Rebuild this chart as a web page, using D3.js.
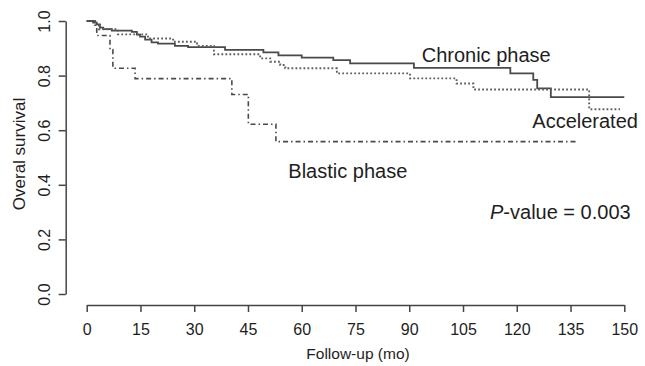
<!DOCTYPE html>
<html>
<head>
<meta charset="utf-8">
<script src="https://cdn.jsdelivr.net/npm/d3@7"></script>
<style>
  body { margin: 0; background: #fff; }
  svg { display: block; font-family: "Liberation Sans", Arial, sans-serif; }
</style>
</head>
<body>
<svg id="chart" width="645" height="366"></svg>
<script>
// Kaplan-Meier steps (time in months, survival after the step)
let chronicTime = [0, 1.8, 2.8, 3.7, 4.6, 7.0, 12.6, 14.0, 14.9, 16.3, 18.1, 19.9, 24.6, 28.3, 38.6, 49.3, 53.5, 60.0, 68.8, 73.5, 91.3, 118.2, 124.6, 125.7, 129.5, 150];
let chronicSurv = [1.0, 0.994, 0.988, 0.976, 0.970, 0.965, 0.960, 0.950, 0.943, 0.932, 0.922, 0.917, 0.909, 0.904, 0.894, 0.885, 0.874, 0.866, 0.857, 0.845, 0.828, 0.808, 0.784, 0.753, 0.721, 0.721];

let accelTime = [0, 2.3, 3.4, 8.7, 17.1, 24.1, 30.8, 35.5, 48.4, 51.2, 54.0, 55.4, 69.8, 90.2, 103.2, 107.9, 140.2, 148.8];
let accelSurv = [1.0, 0.985, 0.970, 0.951, 0.936, 0.924, 0.909, 0.878, 0.863, 0.851, 0.839, 0.827, 0.808, 0.790, 0.771, 0.749, 0.677, 0.677];

let blasticTime = [0, 2.8, 6.5, 7.3, 13.5, 40.5, 45.1, 52.8, 137.2];
let blasticSurv = [1.0, 0.947, 0.895, 0.827, 0.789, 0.731, 0.622, 0.558, 0.558];

let xTicks = [0, 15, 30, 45, 60, 75, 90, 105, 120, 135, 150];
let yTicks = [0, 0.2, 0.4, 0.6, 0.8, 1.0];

let svg = d3.select("#chart");
let ink = "#1e1e1e";
let axisColour = "#444";

let x = d3.scaleLinear().domain([0, 150]).range([86.7, 624.3]);
let y = d3.scaleLinear().domain([0, 1]).range([294, 21]);

// x axis
let gx = svg.append("g")
    .attr("transform", "translate(0,305)")
    .call(d3.axisBottom(x).tickValues(xTicks).tickSize(7).tickSizeOuter(0));
gx.select(".domain").attr("stroke", axisColour).attr("stroke-width", 1.5);
gx.selectAll(".tick line").attr("stroke", axisColour).attr("stroke-width", 1.5);
gx.selectAll(".tick text")
    .attr("y", 30).attr("dy", 0)
    .attr("fill", ink)
    .style("font-size", "16px");

// y axis, labels turned like R does
let gy = svg.append("g")
    .attr("transform", "translate(65.7,0)")
    .call(d3.axisLeft(y).tickValues(yTicks).tickSize(7).tickSizeOuter(0).tickFormat(d3.format(".1f")));
gy.select(".domain").attr("stroke", axisColour).attr("stroke-width", 1.5);
gy.selectAll(".tick line").attr("stroke", axisColour).attr("stroke-width", 1.5);
gy.selectAll(".tick text")
    .attr("x", null).attr("dy", null)
    .attr("text-anchor", "middle")
    .attr("transform", "translate(-15.7,0) rotate(-90)")
    .attr("fill", ink)
    .style("font-size", "16px");

// axis titles
svg.append("text")
    .attr("x", 358).attr("y", 359)
    .attr("text-anchor", "middle")
    .attr("fill", ink)
    .style("font-size", "15.5px")
    .text("Follow-up (mo)");

svg.append("text")
    .attr("transform", "translate(25,154) rotate(-90)")
    .attr("text-anchor", "middle")
    .attr("fill", ink)
    .style("font-size", "17px")
    .text("Overal survival");

// survival curves
let step = d3.line()
    .x(function (d) { return x(d[0]); })
    .y(function (d) { return y(d[1]); })
    .curve(d3.curveStepAfter);

let curves = [
    { t: chronicTime, s: chronicSurv, colour: "#4a4a4a", width: 1.8, dash: null },
    { t: accelTime, s: accelSurv, colour: "#5e5e5e", width: 1.9, dash: "1.8,2.2" },
    { t: blasticTime, s: blasticSurv, colour: "#4a4a4a", width: 1.6, dash: "1.5,3,5,3" }
];

curves.forEach(function (c) {
    svg.append("path")
        .datum(d3.zip(c.t, c.s))
        .attr("d", step)
        .attr("fill", "none")
        .attr("stroke", c.colour)
        .attr("stroke-width", c.width)
        .attr("stroke-dasharray", c.dash);
});

// labels
let labels = [
    { text: "Chronic phase", x: 421.7, y: 61.7 },
    { text: "Accelerated", x: 532.3, y: 128.3 },
    { text: "Blastic phase", x: 288.3, y: 178.3 }
];
labels.forEach(function (l) {
    svg.append("text")
        .attr("x", l.x).attr("y", l.y)
        .attr("fill", ink)
        .style("font-size", "20px")
        .text(l.text);
});

let pv = svg.append("text")
    .attr("x", 490).attr("y", 219.3)
    .attr("fill", ink)
    .style("font-size", "20px");
pv.append("tspan").style("font-style", "italic").text("P");
pv.append("tspan").text("-value = 0.003");
</script>
</body>
</html>
